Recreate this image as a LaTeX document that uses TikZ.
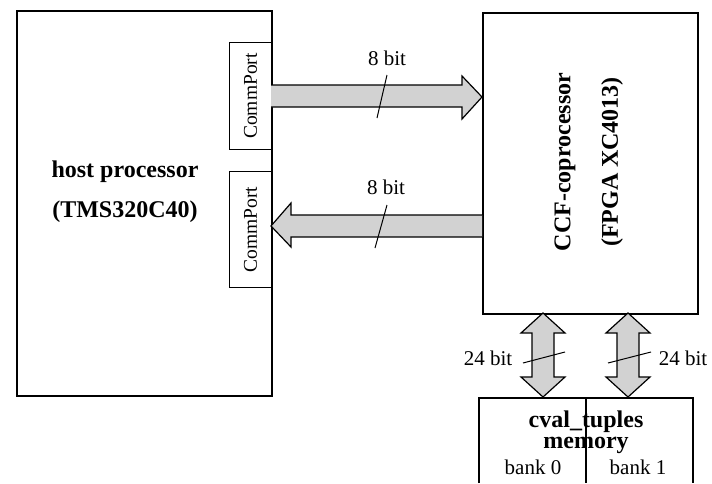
\documentclass[tikz,border=0pt]{standalone}
\usepackage{fontspec}
\setmainfont{Liberation Serif}
\begin{document}
\begin{tikzpicture}[x=1pt,y=-1pt,
  box/.style={draw, line width=1.6pt, inner sep=0pt, anchor=north west},
  port/.style={draw, line width=1pt, inner sep=0pt, anchor=north west},
  bus/.style={draw, line width=1.2pt, fill=gray!35, line join=miter},
  lbl/.style={font=\fontsize{21}{23}\selectfont, inner sep=0pt},
  portlbl/.style={font=\fontsize{19.5}{21}\selectfont, inner sep=0pt},
  big/.style={font=\fontsize{24}{26}\selectfont\bfseries, inner sep=0pt},
  mem/.style={font=\fontsize{24}{26}\selectfont\bfseries, inner sep=0pt},
  tick/.style={line width=1pt}]
\useasboundingbox (0,0) rectangle (712,483);
% boxes
\node[box, minimum width=255pt, minimum height=385pt] (host) at (16,10) {};
\node[port, minimum width=42pt, minimum height=107pt] (cp1) at (229,42) {};
\node[port, minimum width=42pt, minimum height=116pt] (cp2) at (229,171) {};
\node[portlbl, rotate=90] (cp1t) at (cp1.center) {CommPort};
\node[portlbl, rotate=90] (cp2t) at (cp2.center) {CommPort};
\node[big] (h1) at (125,172) {host processor};
\node[big] (h2) at (125,212) {(TMS320C40)};
\node[box, minimum width=215pt, minimum height=301pt] (ccf) at (482,12) {};
\node[big, rotate=90] (c1) at (565,162) {CCF-coprocessor};
\node[big, rotate=90] (c2) at (612,162) {(FPGA XC4013)};
% memory
\coordinate (mtl) at (479,398);
\coordinate (mtr) at (693,398);
\coordinate (mbl) at (479,483);
\coordinate (mbr) at (693,483);
\coordinate (mdt) at (586,398);
\coordinate (mdb) at (586,483);
\draw[line width=1.6pt] (mbl) -- (mtl) -- (mtr) -- (mbr);
\draw[line width=1.2pt] (mdt) -- (mdb);
\node[mem] (m1) at (586,422) {cval\_tuples};
\node[mem] (m2) at (586,445) {memory};
\node[lbl] (b0) at (533,467) {bank 0};
\node[lbl] (b1) at (638,467) {bank 1};
% bus 1 (host -> ccf)
\draw[bus] (271,85) -- (462,85) -- (462,76) -- (482,97) -- (462,119) -- (462,107) -- (271,107);
% bus 2 (ccf -> host)
\draw[bus] (482,215) -- (291,215) -- (291,203) -- (271,226) -- (291,247) -- (291,237) -- (482,237);
% vertical double buses
\foreach \cx in {543,628}{
  \draw[bus] (\cx,313) -- (\cx+22,333) -- (\cx+11,333) -- (\cx+11,377) -- (\cx+22,377) -- (\cx,397)
    -- (\cx-22,377) -- (\cx-11,377) -- (\cx-11,333) -- (\cx-22,333) -- cycle;
}
% ticks and labels
\draw[tick] (377,118) -- (387,75);
\draw[tick] (375,248) -- (387,205);
\draw[tick] (523,363) -- (565,352);
\draw[tick] (608,363) -- (651,352);
\node[lbl] (l1) at (387,58) {8 bit};
\node[lbl] (l2) at (386,187) {8 bit};
\node[lbl] (l3) at (488,358) {24 bit};
\node[lbl] (l4) at (683,358) {24 bit};
\end{tikzpicture}
\end{document}
